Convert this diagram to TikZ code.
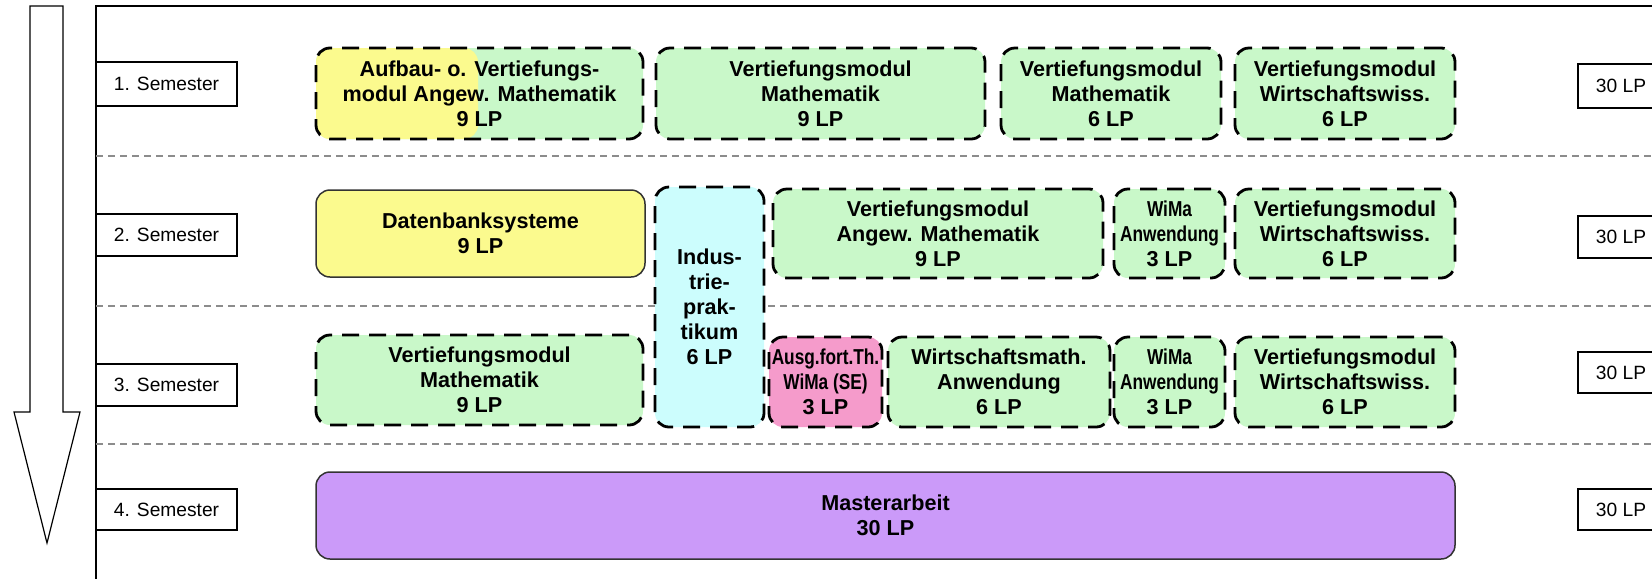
\documentclass[tikz,border=0pt]{standalone}
\usepackage{fontspec}
\setmainfont{Liberation Sans}
\newfontfamily\narrowfont[FakeStretch=0.8]{Liberation Sans}

\definecolor{grn}{HTML}{C9F8C9}
\definecolor{yel}{HTML}{FBFA8E}
\definecolor{cyn}{HTML}{CCFDFD}
\definecolor{pnk}{HTML}{F59BCB}
\definecolor{prp}{HTML}{CB9AF9}

\newcommand\modfont{\fontsize{10.8}{12.5}\selectfont\bfseries}
\newcommand\semfont{\fontsize{9.6}{11}\selectfont}
\newcommand\nar[1]{{\narrowfont\bfseries #1}}

\tikzset{
  % a node spanning the rectangle x1/y1/x2/y2 (picture units, 1 unit = 0.5pt)
  span/.style args={#1/#2/#3/#4}{
    minimum width={(#3-#1)*0.5pt}, minimum height={(#4-#2)*0.5pt},
    at={({(#1+#3)/2},{(#2+#4)/2})}},
  mod/.style={draw=black, line width=1.4pt, dash pattern=on 8.5pt off 5pt,
    rounded corners=7pt, inner sep=0pt, align=center, font=\modfont},
  solidmod/.style={draw=black!80, line width=0.75pt, rounded corners=7pt,
    inner sep=0pt, align=center, font=\modfont},
  label box/.style={draw=black, line width=0.65pt, inner sep=0pt, font=\semfont},
  separator/.style={draw=black!45, line width=0.75pt, dash pattern=on 3.5pt off 2.5pt},
  frame line/.style={draw=black, line width=0.6pt},
}

\begin{document}
\begin{tikzpicture}[x=0.5pt, y=-0.5pt]
\useasboundingbox (0,0) rectangle (1652,579);
\clip (0,0) rectangle (1652,579);

% time arrow
\draw[line width=0.6pt, fill=white]
  (30,6) -- (63,6) -- (63,412) -- (80,412) -- (47,543) -- (14,412) -- (30,412) -- cycle;

% outer frame
\draw[frame line] (1652,6) -- (96,6) -- (96,579);

% semester separators
\coordinate (s1l) at (96,156);  \coordinate (s1r) at (1652,156);
\coordinate (s2l) at (96,306);  \coordinate (s2r) at (1652,306);
\coordinate (s3l) at (96,444);  \coordinate (s3r) at (1652,444);
\draw[separator] (s1l) -- (s1r);
\draw[separator] (s2l) -- (s2r);
\draw[separator] (s3l) -- (s3r);

% semester labels
\node[label box, span=96/62/237/106] (sem1) {1. Semester};
\node[label box, span=96/214/237/256] (sem2) {2. Semester};
\node[label box, span=96/364/237/406] (sem3) {3. Semester};
\node[label box, span=96/489/237/530] (sem4) {4. Semester};

% credit totals
\node[label box, span=1578/64/1664/108] (lp1) {30 LP};
\node[label box, span=1578/216/1664/258] (lp2) {30 LP};
\node[label box, span=1578/352/1664/393] (lp3) {30 LP};
\node[label box, span=1578/489/1664/530] (lp4) {30 LP};

% semester 1
\node[mod, fill=grn, span=316/48/643/139,
  path picture={\fill[yel] (path picture bounding box.south west)
    rectangle ([xshift=81pt]path picture bounding box.north west);}]
  (aufbau) {Aufbau- o. Vertiefungs-\\modul Angew. Mathematik\\9 LP};
\node[mod, fill=grn, span=656/48/985/139] (vmath1) {Vertiefungsmodul\\Mathematik\\9 LP};
\node[mod, fill=grn, span=1001/48/1221/139] (vmath2) {Vertiefungsmodul\\Mathematik\\6 LP};
\node[mod, fill=grn, span=1235/48/1455/139] (vwiwi1) {Vertiefungsmodul\\Wirtschaftswiss.\\6 LP};

% semester 2
\node[solidmod, fill=yel, span=316/190/645/277] (dbs) {Datenbanksysteme\\9 LP};
\node[mod, fill=cyn, span=655/187/764/427] (ind) {Indus-\\trie-\\prak-\\tikum\\6 LP};
\node[mod, fill=grn, span=773/189/1103/278] (vangew) {Vertiefungsmodul\\Angew. Mathematik\\9 LP};
\node[mod, fill=grn, span=1114/189/1225/278] (wima1) {\nar{WiMa}\\\nar{Anwendung}\\3 LP};
\node[mod, fill=grn, span=1235/189/1455/278] (vwiwi2) {Vertiefungsmodul\\Wirtschaftswiss.\\6 LP};

% semester 3
\node[mod, fill=grn, span=316/335/643/425] (vmath3) {Vertiefungsmodul\\Mathematik\\9 LP};
\node[mod, fill=pnk, span=769/337/882/427] (ausg) {\nar{Ausg.fort.Th.}\\\nar{WiMa (SE)}\\3 LP};
\node[mod, fill=grn, span=888/337/1110/427] (wimath) {Wirtschaftsmath.\\Anwendung\\6 LP};
\node[mod, fill=grn, span=1114/337/1225/427] (wima2) {\nar{WiMa}\\\nar{Anwendung}\\3 LP};
\node[mod, fill=grn, span=1235/337/1455/427] (vwiwi3) {Vertiefungsmodul\\Wirtschaftswiss.\\6 LP};

% semester 4
\node[solidmod, fill=prp, span=316/472/1455/559] (master) {Masterarbeit\\30 LP};
\end{tikzpicture}
\end{document}
